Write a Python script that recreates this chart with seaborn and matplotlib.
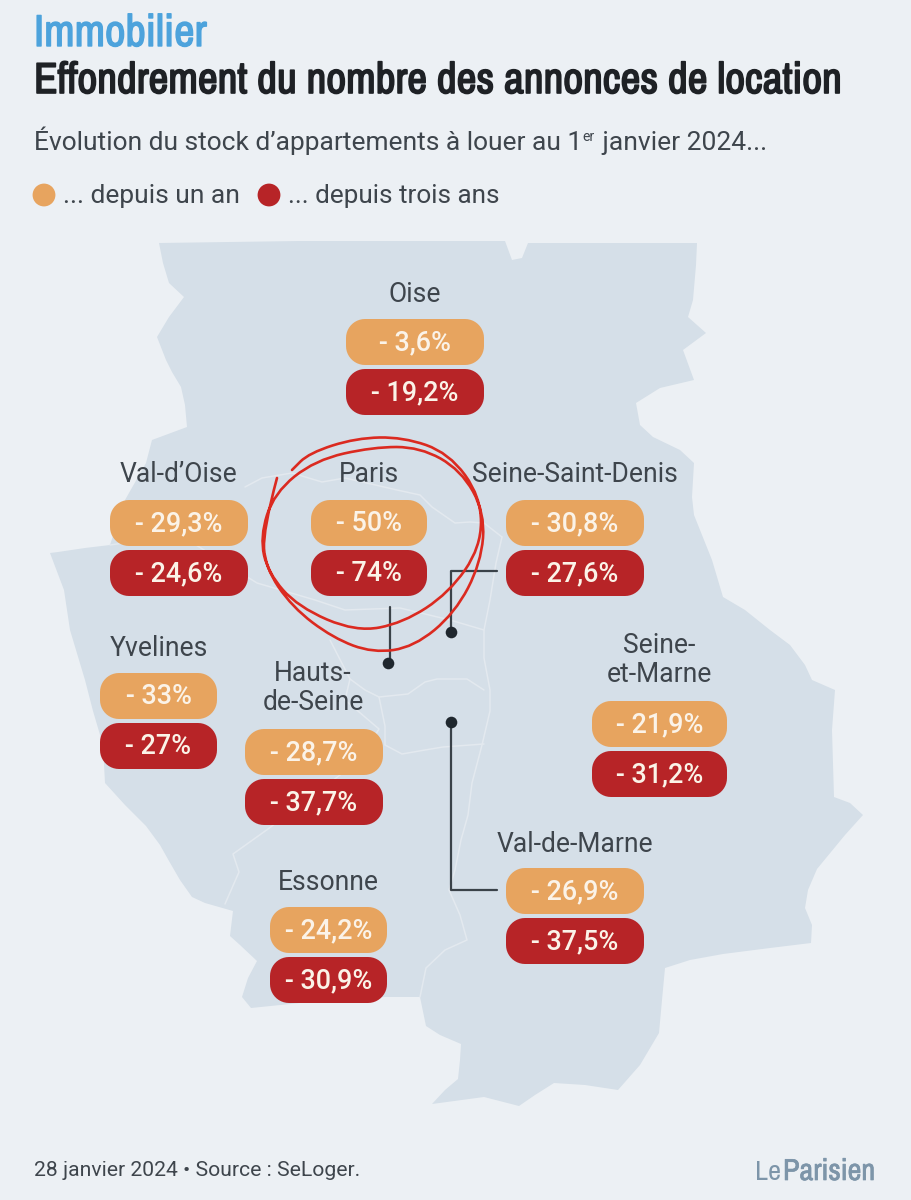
import numpy as np
import pandas as pd
import matplotlib
matplotlib.use("Agg")
import matplotlib.pyplot as plt
import matplotlib.patheffects as pe
from matplotlib.patches import Polygon, PathPatch
from matplotlib.path import Path
from matplotlib import font_manager as fm
import seaborn as sns

# ---------- data ----------
departements = ["Oise", "Val-d'Oise", "Paris", "Seine-Saint-Denis", "Yvelines",
                "Hauts-\nde-Seine", "Seine-\net-Marne", "Val-de-Marne", "Essonne"]
depuis_un_an = [-3.6, -29.3, -50, -30.8, -33, -28.7, -21.9, -26.9, -24.2]
depuis_trois_ans = [-19.2, -24.6, -74, -27.6, -27, -37.7, -31.2, -37.5, -30.9]
legend_labels = ["... depuis un an", "... depuis trois ans"]

# ---------- layout (pixels of the 912x1200 image) ----------
pill_left = [346, 110, 311, 506, 100, 245, 592, 506, 270]
pill_right = [484, 248, 427, 644, 217, 383, 727, 644, 387]
pill_top = [319, 500, 500, 500, 673, 729, 701, 868, 907]
name_y = [294, 475, 475, 475, 649, 688, 660, 844, 883]

BG = "#ECF0F4"; MAP = "#D5DFE8"; ORANGE = "#E7A45F"; RED = "#B72427"
INK = "#3E454C"; CIRCLE = "#DB2A20"; LINE = "#3A4249"; BORDER = "#E3E9EF"

sns.set_theme(style="white")
cond = [f.name for f in fm.fontManager.ttflist
        if any(k in f.name for k in ("Narrow", "Condensed"))]
NARROW = cond[0] if cond else "Roboto"
plt.rcParams["font.family"] = ["Roboto", "DejaVu Sans"]

fig = plt.figure(figsize=(9.12, 12), dpi=100, facecolor=BG)
ax = fig.add_axes([0, 0, 1, 1])
ax.set_xlim(0, 912); ax.set_ylim(1200, 0); ax.axis("off")
rend = fig.canvas.get_renderer()

def px(p):
    return p * 0.72

def fit(x, y, s, width, size, embolden=0, **kw):
    """Text starting at x whose rendered width is brought to `width` pixels."""
    t = ax.text(x, y, s, fontsize=px(size), va="baseline", **kw)
    t.set_fontsize(px(size) * width / t.get_window_extent(rend).width)
    if embolden:
        t.set_path_effects([pe.withStroke(linewidth=embolden, foreground=kw["color"])])
    return t

# ---------- map silhouette ----------
outline = [(159,243),(300,241),(505,241),(512,260),(522,258),(528,243),(697,243),(696,265),(693,300),(688,317),
 (706,333),(683,350),(694,380),(660,388),(636,403),(640,425),(653,437),(680,450),(694,463),(692,497),(694,515),
 (700,530),(712,560),(723,597),(745,610),(770,630),(790,645),(805,665),(812,680),(835,690),(832,730),(834,797),
 (850,803),(863,815),(845,835),(817,869),(808,890),(805,908),(812,925),(811,943),(770,948),(723,954),(690,960),
 (665,968),(662,1000),(659,1033),(640,1065),(618,1090),(585,1085),(554,1083),(535,1095),(519,1106),(484,1097),
 (432,1104),(445,1090),(458,1079),(460,1060),(461,1044),(440,1035),(426,1026),(420,997),(385,997),(300,1003),
 (251,1008),(242,997),(248,978),(257,961),(240,945),(230,936),(233,911),(205,903),(192,897),(180,880),(169,861),
 (160,845),(146,826),(125,805),(105,783),(103,745),(93,711),(85,680),(70,630),(64,590),(50,553),(58,552),(85,548),
 (110,545),(125,500),(146,463),(152,440),(187,427),(185,405),(181,387),(172,372),(166,360),(157,337),(169,317),
 (184,297),(169,283),(163,263)]
ax.add_patch(Polygon(outline, closed=True, facecolor=MAP, edgecolor="none", zorder=1))

borders = [
 [(245,487),(262,478),(292,473),(322,482),(345,478),(397,490),(420,495),(432,507),(455,523),(470,522),(484,523),(502,537)],
 [(502,537),(496,563),(490,600),(484,630),(484,658),(490,690),(490,711),(482,745),(472,783),(468,815),(461,840),
  (455,870),(449,890),(460,915),(467,940),(445,950),(426,968),(420,997)],
 [(110,545),(180,535),(257,583),(315,600),(345,610),(400,608),(450,620),(484,630)],
 [(350,679),(365,690),(379,697),(408,694),(425,682),(437,679),(467,679),(484,690)],
 [(330,640),(350,679),(345,700),(379,729),(360,760),(300,805),(268,829),(233,854),(239,872),(225,904)],
 [(379,697),(385,726),(385,745),(402,754),(425,750),(443,747),(484,744)],
]
for b in borders:
    d = pd.DataFrame(b, columns=["x", "y"])
    sns.lineplot(data=d, x="x", y="y", ax=ax, sort=False, estimator=None,
                 color=BORDER, lw=1.1, zorder=2)

# ---------- leader lines ----------
leaders = [[(390,607),(390,663)], [(497,571),(451,571),(451,632)], [(451,722),(451,890),(497,890)]]
dots_x = [388, 451, 451]; dots_y = [663, 632, 722]
for l in leaders:
    d = pd.DataFrame(l, columns=["x", "y"])
    sns.lineplot(data=d, x="x", y="y", ax=ax, sort=False, estimator=None,
                 color=LINE, lw=1.6, zorder=3)
sns.scatterplot(x=dots_x, y=dots_y, ax=ax, color="#1F272E", s=70, linewidth=0, zorder=4, legend=False)

# ---------- pills ----------
def fmt(v):
    return f"- {abs(v):g}%".replace(".", ",")

def stadium(x0, x1, y0, y1, r):
    a = np.linspace(0, np.pi / 2, 12)
    c, s = np.cos(a), np.sin(a)
    xs = np.r_[x1 - r + r*c, x0 + r - r*s, x0 + r - r*c, x1 - r + r*s]
    ys = np.r_[y1 - r + r*s, y1 - r + r*c, y0 + r - r*s, y0 + r - r*c]
    return np.c_[xs, ys]

def pill(x0, x1, y0, y1, col, txt):
    ax.add_patch(Polygon(stadium(x0, x1, y0, y1, 19), closed=True, fc=col, ec="none", zorder=5))
    ax.text((x0 + x1) / 2, (y0 + y1) / 2 + 0.5, txt, ha="center", va="center", color="#FBF3E8",
            fontsize=px(27), family="Roboto", weight="medium", zorder=6)

for i, name in enumerate(departements):
    l, r, t = pill_left[i], pill_right[i], pill_top[i]
    pill(l, r, t, t + 46, ORANGE, fmt(depuis_un_an[i]))
    pill(l, r, t + 50, t + 96, RED, fmt(depuis_trois_ans[i]))
    cx = (l + r) / 2
    if i == 5: cx = 313
    ax.text(cx, name_y[i], name.replace("'", "’"), ha="center", va="center", color=INK,
            fontsize=px(26.5), linespacing=1.12, zorder=6)

# ---------- hand-drawn circle ----------
stroke = [(277,478),(263,530),(265,567),(292,607),(333,638),(373,653),(414,647),(455,613),
 (481,563),(485,513),(461,470),(420,447),(373,447),(315,460),(274,493),(260,537),(268,573),(298,607),
 (356,632),(403,623),(449,593),(481,547),(481,497),(449,453),(403,437),(356,438),(309,453),(292,470)]
verts = [stroke[0]]; codes = [Path.MOVETO]
for a, b in zip(stroke[1:-1], stroke[2:]):
    verts += [a, ((a[0]+b[0])/2, (a[1]+b[1])/2)]
    codes += [Path.CURVE3, Path.CURVE3]
verts.append(stroke[-1]); codes.append(Path.LINETO)
ax.add_patch(PathPatch(Path(verts, codes), fc="none", ec=CIRCLE, lw=1.9, zorder=7, capstyle="round"))

# ---------- header ----------
fit(34, 46, "Immobilier", 172, 36, embolden=1.0, color="#4DA3DC", family=NARROW)
fit(34, 93, "Effondrement du nombre des annonces de location", 808, 36, embolden=1.2,
    color="#1E2125", family=NARROW)

def run(x, y, s, size, **kw):
    t = ax.text(x, y, s, fontsize=px(size), color=INK, va="baseline", **kw)
    return x + t.get_window_extent(rend).width + 0.5

x = run(34, 150, "Évolution du stock d’appartements à louer au 1", 26.4)
x = run(x, 141, "er", 14)
run(x + 1, 150, " janvier 2024...", 26.4)

# ---------- legend ----------
sns.scatterplot(x=[44, 269], y=[195, 195], ax=ax, hue=legend_labels, palette=[ORANGE, RED],
                s=270, linewidth=0, legend=False, zorder=5)
fit(63, 203, legend_labels[0], 177, 26, color=INK)
fit(288, 203, legend_labels[1], 212, 26, color=INK)

# ---------- footer ----------
fit(34, 1176, "28 janvier 2024 • Source : SeLoger.", 326, 21, color=INK)
fit(755, 1180, "Le", 26, 26, color="#7D95A9", family=NARROW)
fit(783, 1180, "Parisien", 92, 30, embolden=0.5, color="#7D95A9", family=NARROW)

ax.set_xlabel(""); ax.set_ylabel("")
ax.set_xlim(0, 912); ax.set_ylim(1200, 0)
fig.savefig("out.png", dpi=100, facecolor=BG)
